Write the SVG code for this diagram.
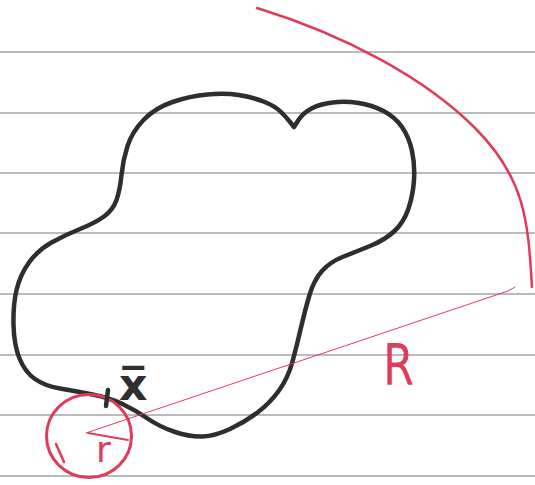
<svg xmlns="http://www.w3.org/2000/svg" width="535" height="485" viewBox="0 0 535 485">
<style>
.rule{stroke:#b8bcbc;stroke-width:2;fill:none}
.ink{stroke:#2e2e2e;stroke-width:4.5;fill:none;stroke-linecap:round;stroke-linejoin:round}
.red{stroke:#e03c5a;fill:none;stroke-linecap:round;stroke-linejoin:round}
.lbl-red{fill:#e03c5a;font-family:"DejaVu Sans",sans-serif}
.lbl-ink{fill:#2e2e2e;font-family:"DejaVu Sans",sans-serif}
</style>
<rect width="535" height="485" fill="#ffffff"/>
<g id="paper-lines">
<line class="rule" x1="0" y1="52" x2="535" y2="52"/>
<line class="rule" x1="0" y1="113" x2="535" y2="113"/>
<line class="rule" x1="0" y1="173" x2="535" y2="173"/>
<line class="rule" x1="0" y1="233" x2="535" y2="233"/>
<line class="rule" x1="0" y1="294" x2="535" y2="294"/>
<line class="rule" x1="0" y1="355" x2="535" y2="355"/>
<line class="rule" x1="0" y1="415" x2="535" y2="415"/>
<line class="rule" x1="0" y1="476" x2="535" y2="476"/>
</g>
<g id="region">
<path class="ink" d="M294,127 L298.5,120 Q303,113 311.5,108.5 Q320,104 332.5,102.5 Q345,101 358.5,103 Q372,105 383.5,111 Q395,117 402,127 Q409,137 412,151 Q415,165 414,180 Q413,195 408.5,208.5 Q404,222 394.5,231 Q385,240 370,246 Q355,252 342.5,257 Q330,262 322,271 Q314,280 309.5,295 Q305,310 301,327.5 Q297,345 292.5,361.5 Q288,378 279,390.5 Q270,403 257.5,412.5 Q245,422 230,429 Q215,436 202.5,436.5 Q190,437 175,432 Q160,427 147.5,418.5 Q135,410 122.5,404 Q110,398 92.5,394.5 Q75,391 60,388.5 Q45,386 35,379 Q25,372 19.5,358.5 Q14,345 13.5,325 Q13,305 16.5,290 Q20,275 29,262.5 Q38,250 51.5,242.5 Q65,235 80,229 Q95,223 104,216.5 Q113,210 116.5,200 Q120,190 121.5,175 Q123,160 127.5,146 Q132,132 143.5,120 Q155,108 172.5,102 Q190,96 207.5,94.5 Q225,93 238.5,95 Q252,97 263.5,101.5 Q275,106 281,112 Q287,118 290.5,122.5 L294,127 Z"/>
</g>
<g id="big-arc">
<path class="red" stroke-width="2.5" d="M257,8 C345,35 425,78 475,128 C525,178 528,220 532,287"/>
</g>
<g id="small-circle">
<ellipse class="red" stroke-width="3" cx="89" cy="436" rx="42.5" ry="41.5"/>
<path class="red" stroke-width="2.5" d="M56,444 L64,462"/>
<path class="red" stroke-width="1.8" d="M88,433 L128,440"/>
<text class="lbl-red" x="96" y="462" font-size="36">r</text>
</g>
<g id="connectors">
<path class="red" stroke-width="1" d="M86,433 L508,291 L515,287"/>
</g>
<g id="point-x">
<path class="ink" d="M108,390 L106,406"/>
<text class="lbl-ink" x="119" y="400" font-size="44" font-weight="bold">x̅</text>
</g>
<g id="label-R">
<text class="lbl-red" x="383" y="385" font-size="57" textLength="31" lengthAdjust="spacingAndGlyphs">R</text>
</g>
</svg>
